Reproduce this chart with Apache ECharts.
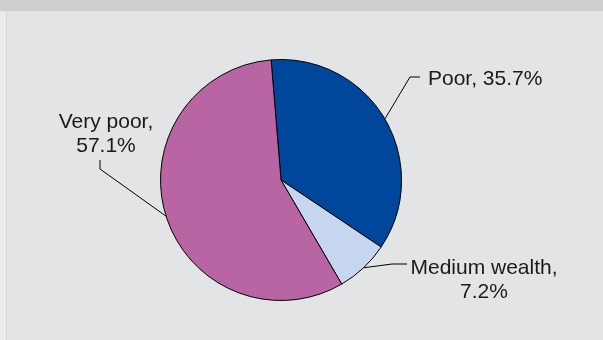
<!DOCTYPE html>
<html>
<head>
<meta charset="utf-8">
<script src="https://cdn.jsdelivr.net/npm/echarts@6/dist/echarts.min.js"></script>
<style>
  html, body { margin: 0; padding: 0; background: #e3e4e6; }
  #chart { width: 603px; height: 340px; }
</style>
</head>
<body>
<div id="chart"></div>
<script>
// Wealth groups and their shares (%)
const categories = ['Poor', 'Medium wealth', 'Very poor'];
const shares = [35.7, 7.2, 57.1];
// whether the share goes on its own line under the name
const breakLine = [false, true, true];
const sliceColors = ['#00479b', '#c6d6ee', '#b965a3'];

// label anchors and leader-line bends, in pixels
const labelAnchors = [
  { x: 428, y: 79, align: 'left', bend: [[410, 77], [420, 77]] },
  { x: 484, y: 280, align: 'center', bend: [[392, 264], [407, 264]] },
  { x: 106, y: 134, align: 'center', bend: [[100, 169], [100, 160]] }
];

const chart = echarts.init(document.getElementById('chart'), null, { renderer: 'canvas' });

const data = categories.map((name, i) => ({
  name,
  value: shares[i],
  itemStyle: { color: sliceColors[i] }
}));

chart.setOption({
  backgroundColor: '#e3e4e6',
  animation: false,
  graphic: [
    { type: 'rect', shape: { x: 0, y: 0, width: 6, height: 340 }, style: { fill: '#ececed' }, z: -10 },
    { type: 'rect', shape: { x: 6, y: 0, width: 1, height: 340 }, style: { fill: '#d6d7d8' }, z: -10 },
    { type: 'rect', shape: { x: 0, y: 0, width: 603, height: 11 }, style: { fill: '#cdcecf' }, z: -9 }
  ],
  series: [{
    type: 'pie',
    center: [281, 180],
    radius: 120.5,
    startAngle: 94.7,
    clockwise: true,
    avoidLabelOverlap: false,
    silent: true,
    data,
    itemStyle: { borderColor: '#000', borderWidth: 1 },
    label: {
      show: true,
      position: 'outside',
      fontFamily: 'Liberation Sans, Arial, sans-serif',
      fontSize: 21,
      lineHeight: 24,
      color: '#1a1a1a',
      formatter: (p) => p.name + ',' + (breakLine[p.dataIndex] ? '\n' : ' ') + p.value + '%'
    },
    labelLine: {
      show: true,
      lineStyle: { color: '#000', width: 1 }
    },
    labelLayout: (params) => {
      const a = labelAnchors[params.dataIndex];
      const start = params.labelLinePoints ? params.labelLinePoints[0] : a.bend[0];
      return {
        x: a.x,
        y: a.y,
        align: a.align,
        verticalAlign: 'middle',
        labelLinePoints: [start, a.bend[0], a.bend[1]]
      };
    }
  }]
});
</script>
</body>
</html>
